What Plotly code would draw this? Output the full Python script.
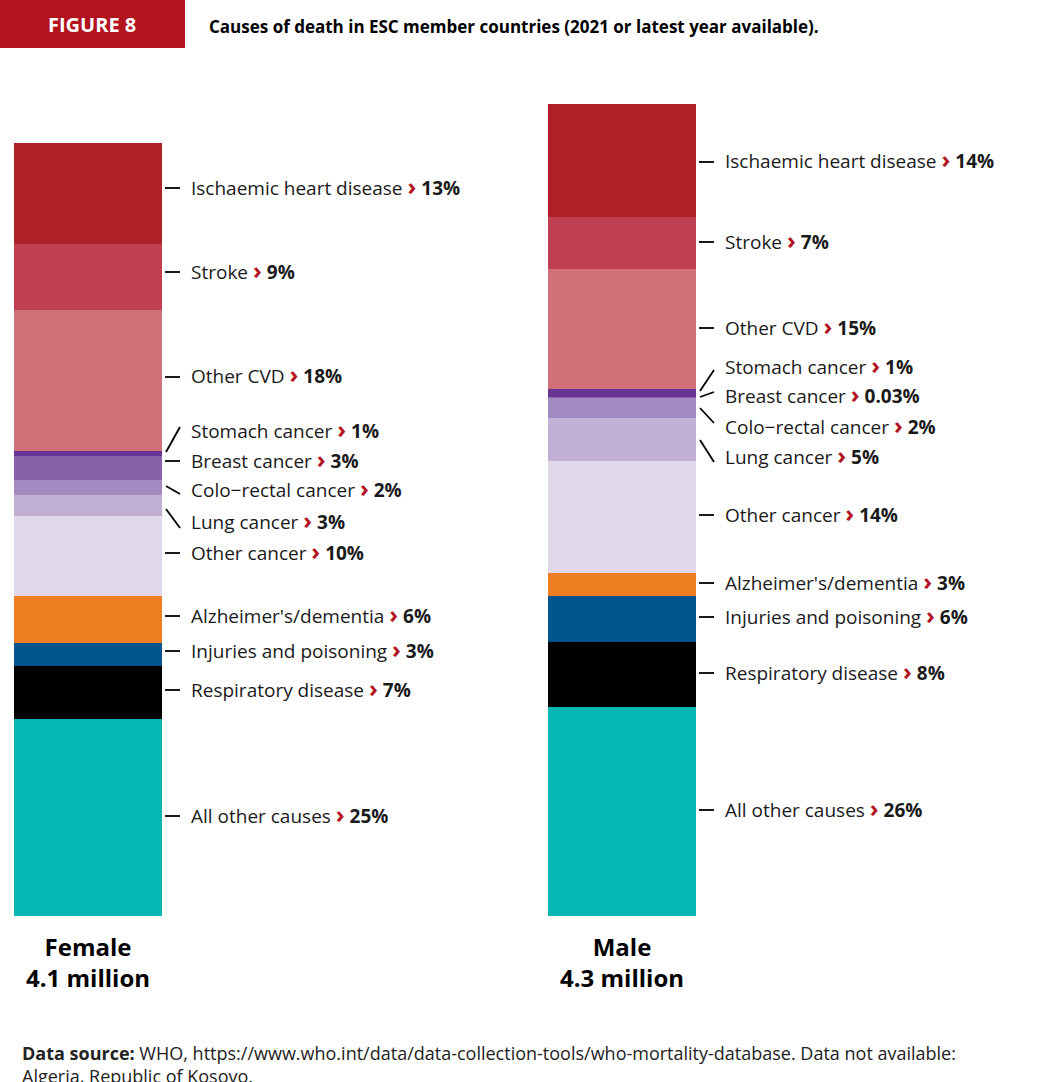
import plotly.graph_objects as go

W, H = 1061, 1082
causes = ["Ischaemic heart disease", "Stroke", "Other CVD", "Stomach cancer", "Breast cancer",
          "Colo\u2212rectal cancer", "Lung cancer", "Other cancer", "Alzheimer's/dementia",
          "Injuries and poisoning", "Respiratory disease", "All other causes"]
colors = ["#ae1f28", "#c03f50", "#d07078", "#663594", "#8960aa", "#a18bc1", "#c2afd6",
          "#e0d8ea", "#ef7d22", "#00558f", "#000000", "#06b7b3"]
female_share = [13.1, 8.5, 18.3, 0.6, 3.1, 1.9, 2.7, 10.4, 6.0, 3.0, 6.8, 25.5]
male_share = [13.9, 6.5, 14.7, 1.0, 0.03, 2.6, 5.3, 13.8, 2.8, 5.7, 8.0, 25.7]
female_pct = ["13%", "9%", "18%", "1%", "3%", "2%", "3%", "10%", "6%", "3%", "7%", "25%"]
male_pct = ["14%", "7%", "15%", "1%", "0.03%", "2%", "5%", "14%", "3%", "6%", "8%", "26%"]
totals = {"Female": 4.1, "Male": 4.3}

# layout (pixel) positions
bar_x = {"Female": 88, "Male": 622}
bar_w = 148
base_px, px_per_m = 916, 812 / 4.3
lab_y = {"Female": [188, 272, 377, 431, 461, 491, 522, 553, 616, 651, 690, 816],
         "Male": [162, 242, 328, 368, 397, 427, 457, 515, 583, 617, 673, 810]}
lead = {"Female": {3: (452, 427), 5: (486, 494), 6: (509, 528)},
        "Male": {3: (391, 370), 4: (397, 392), 5: (408, 423), 6: (440, 462)}}

ymin = -(H - base_px) / px_per_m
ymax = base_px / px_per_m
fig = go.Figure()
for i in reversed(range(len(causes))):
    fig.add_trace(go.Bar(x=[bar_x["Female"], bar_x["Male"]],
                         y=[female_share[i] / 100 * totals["Female"], male_share[i] / 100 * totals["Male"]],
                         width=bar_w, marker=dict(color=colors[i], line=dict(width=0)), name=causes[i],
                         showlegend=False, hoverinfo="skip"))

def px(x, y):
    return x / W, 1 - y / H

shapes, ann = [], []
F = "Open Sans"
for sex, pcts in (("Female", female_pct), ("Male", male_pct)):
    x0 = bar_x[sex] + bar_w / 2
    for i, c in enumerate(causes):
        ly = lab_y[sex][i]
        if i in lead[sex]:
            a, b = lead[sex][i]
            p0, p1 = px(x0 + 4, a), px(x0 + 18, b)
        else:
            p0, p1 = px(x0 + 3, ly), px(x0 + 18, ly)
        shapes.append(dict(type="line", xref="paper", yref="paper", x0=p0[0], y0=p0[1], x1=p1[0], y1=p1[1],
                           line=dict(color="black", width=1.8)))
        lx, lyy = px(x0 + 27, ly - 3)
        ann.append(dict(xref="paper", yref="paper", x=lx, y=lyy, xanchor="left", yanchor="middle",
                        showarrow=False, font=dict(family=F, size=19, color="#1a1a1a"),
                        text=f"{c} <b><span style='color:#b3121f;font-size:24px'>\u203a</span> {pcts[i]}</b>"))
    cx, cy = px(bar_x[sex], 962)
    ann.append(dict(xref="paper", yref="paper", x=cx, y=cy, xanchor="center", yanchor="middle",
                    showarrow=False, font=dict(family=F, size=24, color="black"),
                    text=f"<b>{sex}<br>{totals[sex]} million</b>"))

shapes.append(dict(type="rect", xref="paper", yref="paper", x0=0, x1=185 / W, y0=1 - 48 / H, y1=1,
                   fillcolor="#b3121f", line=dict(width=0)))
ann.append(dict(xref="paper", yref="paper", x=92 / W, y=1 - 25 / H, xanchor="center", yanchor="middle",
                showarrow=False, font=dict(family=F, size=20, color="white"), text="<b>FIGURE 8</b>"))
ann.append(dict(xref="paper", yref="paper", x=207 / W, y=1 - 27 / H, xanchor="left", yanchor="middle",
                showarrow=False, font=dict(family=F, size=17, color="black"),
                text="<b>Causes of death in ESC member countries (2021 or latest year available).</b>"))
ann.append(dict(xref="paper", yref="paper", x=20 / W, y=1 - 1039 / H, xanchor="left", yanchor="top",
                align="left", showarrow=False, font=dict(family=F, size=18, color="#222"),
                text="<b>Data source:</b> WHO, https://www.who.int/data/data-collection-tools/who-mortality-database. Data not available:<br>Algeria, Republic of Kosovo."))

fig.update_layout(width=W, height=H, margin=dict(l=0, r=0, t=0, b=0), barmode="stack",
                  plot_bgcolor="white", paper_bgcolor="white", shapes=shapes, annotations=ann,
                  xaxis=dict(range=[0, W], visible=False, fixedrange=True),
                  yaxis=dict(range=[ymin, ymax], visible=False, fixedrange=True))
fig.write_html("out.html", config={"displayModeBar": False})
with open("out.html", encoding="utf-8") as f:
    html = f.read()
html = html.replace("<body>", "<body style=\"margin:0;overflow:hidden\">", 1)
with open("out.html", "w", encoding="utf-8") as f:
    f.write(html)
